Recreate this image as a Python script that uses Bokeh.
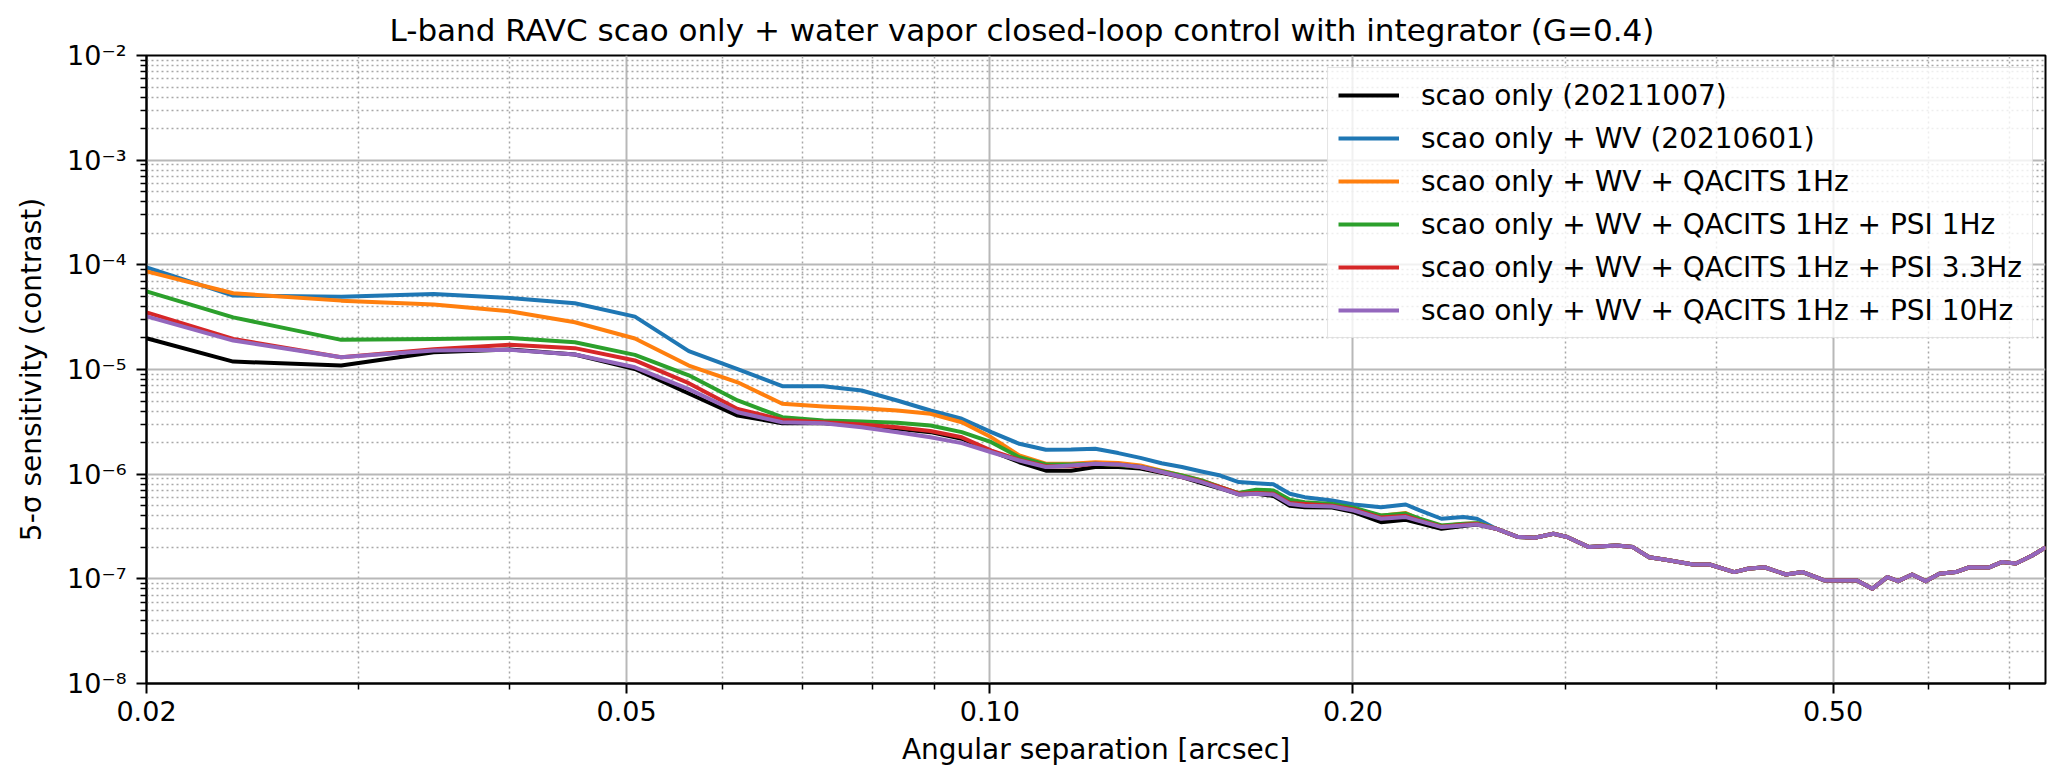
from bokeh.plotting import figure
from bokeh.models import (Range1d, FixedTicker, CustomJSTickFormatter, Legend,
                          LegendItem, ColumnDataSource)
from bokeh.embed import file_html
from bokeh.resources import INLINE

FONT = "DejaVu Sans"

# ---------------- data ----------------
head_x = [0.0200, 0.0236, 0.0290, 0.0346, 0.0400, 0.0453, 0.0508, 0.0563, 0.0618, 0.0673,
          0.0728, 0.0783, 0.0838, 0.0893, 0.0948, 0.1003, 0.1058, 0.1113, 0.1168, 0.1223,
          0.1278, 0.1333, 0.1388, 0.1443, 0.1498, 0.1553, 0.1608, 0.1663, 0.1718, 0.1773]
mid_x = [0.1824, 0.1922, 0.2003, 0.2110, 0.2212, 0.2272, 0.2368, 0.2469, 0.2534]
tail_x = [0.2628, 0.2742, 0.2829, 0.2932, 0.3010, 0.3138, 0.3307, 0.3412, 0.3520, 0.3632,
          0.3828, 0.3950, 0.4140, 0.4250, 0.4386, 0.4570, 0.4718, 0.4918, 0.5100, 0.5234,
          0.5390, 0.5546, 0.5662, 0.5814, 0.5966, 0.6124, 0.6320, 0.6486, 0.6728, 0.6906,
          0.7088, 0.7312, 0.7506]
tail_y = [3.01e-7, 2.51e-7, 2.47e-7, 2.70e-7, 2.51e-7, 2.01e-7, 2.08e-7, 2.01e-7, 1.61e-7, 1.52e-7,
          1.37e-7, 1.37e-7, 1.16e-7, 1.25e-7, 1.29e-7, 1.10e-7, 1.16e-7, 9.66e-8, 9.66e-8, 9.66e-8,
          8.05e-8, 1.04e-7, 9.5e-8, 1.10e-7, 9.5e-8, 1.12e-7, 1.16e-7, 1.29e-7, 1.28e-7, 1.45e-7,
          1.40e-7, 1.67e-7, 2.00e-7]

black_head = [1.99e-5, 1.19e-5, 1.09e-5, 1.46e-5, 1.55e-5, 1.39e-5, 1.01e-5, 5.9e-6, 3.63e-6, 3.07e-6,
              3.07e-6, 2.92e-6, 2.71e-6, 2.52e-6, 2.18e-6, 1.66e-6, 1.30e-6, 1.08e-6, 1.08e-6, 1.17e-6,
              1.17e-6, 1.13e-6, 1.03e-6, 9.4e-7, 8.2e-7, 7.3e-7, 6.4e-7, 6.5e-7, 6.2e-7, 5.0e-7]
black_mid = [4.84e-7, 4.80e-7, 4.34e-7, 3.48e-7, 3.66e-7, 3.40e-7, 3.01e-7, 3.20e-7, 3.30e-7]

blue_head = [9.46e-5, 5.08e-5, 4.96e-5, 5.27e-5, 4.83e-5, 4.30e-5, 3.20e-5, 1.50e-5, 1.01e-5, 6.92e-6,
             6.92e-6, 6.30e-6, 5.06e-6, 4.06e-6, 3.38e-6, 2.52e-6, 1.95e-6, 1.71e-6, 1.72e-6, 1.75e-6,
             1.59e-6, 1.43e-6, 1.27e-6, 1.17e-6, 1.06e-6, 9.7e-7, 8.4e-7, 8.2e-7, 8.0e-7, 6.5e-7]
blue_mid = [6.03e-7, 5.60e-7, 5.13e-7, 4.84e-7, 5.13e-7, 4.50e-7, 3.75e-7, 3.89e-7, 3.75e-7]

orange_head = [8.67e-5, 5.35e-5, 4.55e-5, 4.17e-5, 3.60e-5, 2.83e-5, 1.98e-5, 1.09e-5, 7.55e-6, 4.70e-6,
               4.43e-6, 4.27e-6, 4.06e-6, 3.77e-6, 3.13e-6, 2.25e-6, 1.51e-6, 1.26e-6, 1.26e-6, 1.30e-6,
               1.28e-6, 1.21e-6, 1.08e-6, 9.7e-7, 8.7e-7, 7.5e-7, 6.6e-7, 6.84e-7, 6.8e-7, 5.6e-7]
orange_mid = [5.3e-7, 5.1e-7, 4.7e-7, 4.0e-7, 4.25e-7, 3.7e-7, 3.2e-7, 3.35e-7, 3.4e-7]

green_head = [5.58e-5, 3.15e-5, 1.92e-5, 1.96e-5, 2.00e-5, 1.82e-5, 1.38e-5, 8.8e-6, 5.06e-6, 3.50e-6,
              3.26e-6, 3.18e-6, 3.10e-6, 2.92e-6, 2.52e-6, 2.02e-6, 1.45e-6, 1.24e-6, 1.24e-6, 1.26e-6,
              1.22e-6, 1.17e-6, 1.07e-6, 9.7e-7, 8.7e-7, 7.5e-7, 6.6e-7, 7.1e-7, 7.0e-7, 5.7e-7]
green_mid = [5.4e-7, 5.2e-7, 4.78e-7, 4.03e-7, 4.2e-7, 3.75e-7, 3.24e-7, 3.36e-7, 3.4e-7]

red_head = [3.52e-5, 1.96e-5, 1.31e-5, 1.56e-5, 1.72e-5, 1.60e-5, 1.22e-5, 7.4e-6, 4.2e-6, 3.30e-6,
            3.13e-6, 2.98e-6, 2.81e-6, 2.58e-6, 2.25e-6, 1.68e-6, 1.37e-6, 1.19e-6, 1.19e-6, 1.26e-6,
            1.24e-6, 1.17e-6, 1.05e-6, 9.4e-7, 8.5e-7, 7.5e-7, 6.5e-7, 6.6e-7, 6.5e-7, 5.3e-7]
red_mid = [5.2e-7, 5.0e-7, 4.6e-7, 3.85e-7, 4.0e-7, 3.6e-7, 3.15e-7, 3.28e-7, 3.35e-7]

purple_head = [3.22e-5, 1.89e-5, 1.31e-5, 1.52e-5, 1.54e-5, 1.39e-5, 1.05e-5, 6.5e-6, 3.91e-6, 3.13e-6,
               3.07e-6, 2.81e-6, 2.52e-6, 2.25e-6, 1.98e-6, 1.62e-6, 1.35e-6, 1.17e-6, 1.21e-6, 1.26e-6,
               1.24e-6, 1.17e-6, 1.05e-6, 9.4e-7, 8.4e-7, 7.3e-7, 6.4e-7, 6.5e-7, 6.4e-7, 5.2e-7]
purple_mid = [5.0e-7, 4.9e-7, 4.5e-7, 3.75e-7, 3.89e-7, 3.56e-7, 3.12e-7, 3.24e-7, 3.31e-7]

series_labels = ["scao only (20211007)",
                 "scao only + WV (20210601)",
                 "scao only + WV + QACITS 1Hz",
                 "scao only + WV + QACITS 1Hz + PSI 1Hz",
                 "scao only + WV + QACITS 1Hz + PSI 3.3Hz",
                 "scao only + WV + QACITS 1Hz + PSI 10Hz"]
series_colors = ["#000000", "#1f77b4", "#ff7f0e", "#2ca02c", "#d62728", "#9467bd"]
series_heads = [black_head, blue_head, orange_head, green_head, red_head, purple_head]
series_mids = [black_mid, blue_mid, orange_mid, green_mid, red_mid, purple_mid]

x_major = [0.02, 0.05, 0.1, 0.2, 0.5]
x_minor = [0.03, 0.04, 0.06, 0.07, 0.08, 0.09, 0.3, 0.4, 0.6, 0.7]
y_major = [1e-8, 1e-7, 1e-6, 1e-5, 1e-4, 1e-3, 1e-2]
y_minor = [m * d for d in [1e-8, 1e-7, 1e-6, 1e-5, 1e-4, 1e-3] for m in range(2, 10)]

title_text = "L-band RAVC scao only + water vapor closed-loop control with integrator (G=0.4)"
x_label = "Angular separation [arcsec]"
y_label = "5-\u03c3 sensitivity (contrast)"

# ---------------- figure ----------------
W, H = 2058, 775
ML, MR, MT, MB = 146, 13, 55, 92
p = figure(width=W, height=H, x_axis_type="log", y_axis_type="log",
           x_range=Range1d(0.02, 0.75), y_range=Range1d(1e-8, 1e-2),
           output_backend="svg", toolbar_location=None,
           min_border_left=ML, min_border_right=MR, min_border_top=MT, min_border_bottom=MB)
p.background_fill_color = "white"
p.border_fill_color = "white"

p.title.text = title_text
p.title.align = "left"
p.title.offset = 243        # puts the title centred on the whole canvas
p.title.standoff = 16
p.title.text_font = FONT
p.title.text_font_size = "31px"
p.title.text_font_style = "normal"
p.title.text_color = "black"

p.xaxis.ticker = FixedTicker(ticks=x_major, minor_ticks=x_minor)
p.yaxis.ticker = FixedTicker(ticks=y_major, minor_ticks=y_minor)
p.xaxis.formatter = CustomJSTickFormatter(code="return tick.toFixed(2);")
p.yaxis.formatter = CustomJSTickFormatter(code="""
const e = Math.round(Math.log10(tick));
const m = {'-': '\\u207b', '0': '\\u2070', '1': '\\u00b9', '2': '\\u00b2', '3': '\\u00b3',
           '4': '\\u2074', '5': '\\u2075', '6': '\\u2076', '7': '\\u2077', '8': '\\u2078', '9': '\\u2079'};
return '10' + String(e).split('').map(c => m[c]).join('');
""")
p.xaxis.axis_label = x_label
p.yaxis.axis_label = y_label

for ax in (p.xaxis, p.yaxis):
    ax.axis_line_color = "black"
    ax.axis_line_width = 2
    ax.major_tick_line_color = "black"
    ax.major_tick_line_width = 2
    ax.minor_tick_line_color = "black"
    ax.minor_tick_line_width = 1.5
    ax.major_tick_out = 10
    ax.major_tick_in = 0
    ax.minor_tick_out = 6
    ax.minor_tick_in = 0
    ax.major_label_text_font = FONT
    ax.major_label_text_font_size = "27px"
    ax.major_label_text_color = "black"
    ax.axis_label_text_font = FONT
    ax.axis_label_text_font_size = "28px"
    ax.axis_label_text_font_style = "normal"
    ax.axis_label_text_color = "black"
p.xaxis.major_label_standoff = 7
p.xaxis.axis_label_standoff = 9
p.yaxis.major_label_standoff = 10
p.yaxis.axis_label_standoff = 16

p.outline_line_color = "black"
p.outline_line_width = 2
p.outline_line_alpha = 1.0

for g in (p.xgrid, p.ygrid):
    g.grid_line_color = "#b8b8b8"
    g.grid_line_width = 2
    g.minor_grid_line_color = "#a8a8a8"
    g.minor_grid_line_width = 1.5
    g.minor_grid_line_dash = "2 3"

items = []
for lab, col, hd, md in zip(series_labels, series_colors, series_heads, series_mids):
    src = ColumnDataSource(data=dict(x=head_x + mid_x + tail_x, y=hd + md + tail_y))
    r = p.line("x", "y", source=src, line_color=col, line_width=4, line_join="round")
    items.append(LegendItem(label=lab, renderers=[r]))

legend = Legend(items=items, location="top_right", margin=12)
legend.label_text_font = FONT
legend.label_text_font_size = "28px"
legend.label_text_color = "black"
legend.label_standoff = 22
legend.glyph_width = 61
legend.glyph_height = 34
legend.label_height = 34
legend.spacing = 9
legend.padding = 10
legend.border_line_color = "#cccccc"
legend.border_line_width = 1.5
legend.background_fill_color = "white"
legend.background_fill_alpha = 0.8
p.add_layout(legend)

open("out.html", "w").write(file_html(p, INLINE))
